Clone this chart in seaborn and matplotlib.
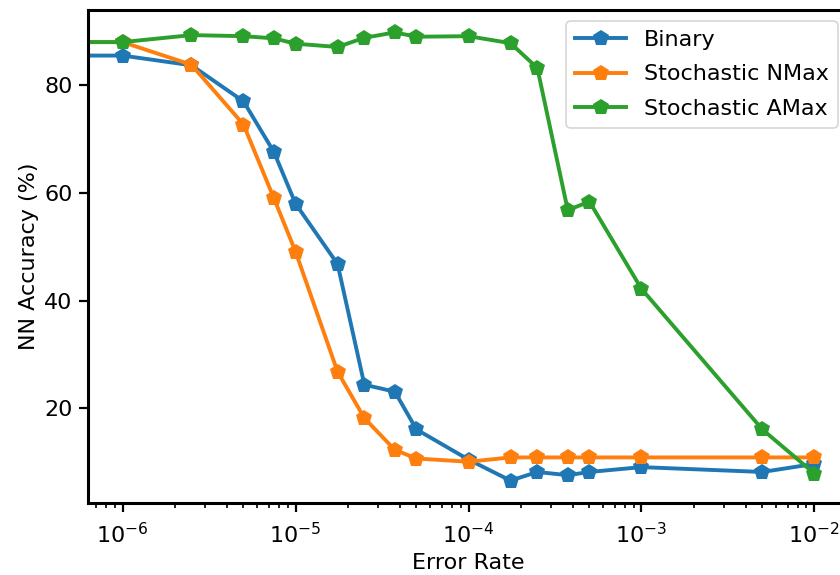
import numpy as np
import matplotlib
matplotlib.use("Agg")
import matplotlib.pyplot as plt
import pandas as pd
import seaborn as sb

# error rates (0 = no error, falls off the left of the log axis)
error_rate = [0, 1e-6, 2.5e-6, 5e-6, 7.5e-6, 1e-5, 1.75e-5, 2.5e-5, 3.75e-5,
              5e-5, 1e-4, 1.75e-4, 2.5e-4, 3.75e-4, 5e-4, 1e-3, 5e-3, 1e-2]

binary = [85.5, 85.5, 83.7, 77.0, 67.6, 58.0, 46.8, 24.4, 23.1,
          16.1, 10.5, 6.6, 8.2, 7.6, 8.2, 9.1, 8.2, 9.7]
stoch_nmax = [88.0, 88.0, 83.8, 72.7, 59.0, 49.1, 26.8, 18.2, 12.3,
              10.7, 10.1, 10.9, 10.9, 10.9, 10.9, 10.9, 10.9, 10.9]
stoch_amax = [88.0, 88.0, 89.3, 89.1, 88.7, 87.7, 87.1, 88.8, 89.8,
              89.0, 89.1, 87.8, 83.2, 56.8, 58.4, 42.2, 16.1, 7.9]

series_names = ["Binary", "Stochastic NMax", "Stochastic AMax"]


def build_frame():
    rows = []
    for name, vals in zip(series_names, [binary, stoch_nmax, stoch_amax]):
        for r, v in zip(error_rate, vals):
            rows.append((name, r, v))
    return pd.DataFrame(rows, columns=["Scheme", "ErrorRate", "Accuracy"])


df = build_frame()

plt.rcParams["font.family"] = ["DejaVu Sans"]
plt.rcParams["axes.linewidth"] = 2.2
plt.rcParams["xtick.major.width"] = 1.6
plt.rcParams["ytick.major.width"] = 1.6
plt.rcParams["xtick.minor.width"] = 1.2
plt.rcParams["xtick.major.size"] = 6.5
plt.rcParams["ytick.major.size"] = 6.5
plt.rcParams["xtick.minor.size"] = 3.6
plt.rcParams["xtick.major.pad"] = 7
plt.rcParams["ytick.major.pad"] = 4.5

fig = plt.figure(figsize=(8.4, 5.75), dpi=100)
ax = fig.add_axes([88 / 840, 72 / 575, 761 / 840, 493 / 575])
ax.set_xscale("log")

sb.lineplot(data=df, x="ErrorRate", y="Accuracy", hue="Scheme",
            hue_order=series_names, palette=["#1f77b4", "#ff7f0e", "#2ca02c"],
            marker="p", markersize=12, markeredgewidth=0, linewidth=2.8,
            estimator=None, ax=ax)

ax.set_xlim(10 ** -6.2, 10 ** -1.8)
ax.set_xlabel("Error Rate", fontsize=16)
ax.set_ylabel("NN Accuracy (%)", fontsize=16)
ax.tick_params(labelsize=16)
ax.set_yticks([20, 40, 60, 80])

leg = ax.legend(loc="upper right", fontsize=16, frameon=True,
                labelspacing=0.65, handlelength=2.3)
leg.get_frame().set_linewidth(1.2)

fig.savefig("out.png", dpi=100)
